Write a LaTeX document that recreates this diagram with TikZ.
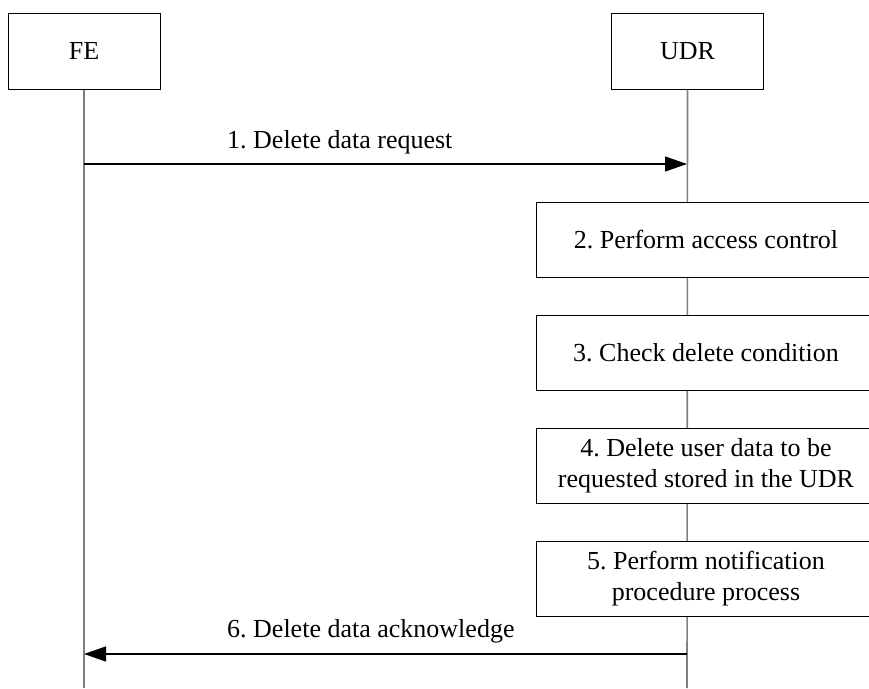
\documentclass[tikz,border=0pt]{standalone}
\usepackage{fontspec}
\setmainfont{Liberation Serif}
\usetikzlibrary{arrows.meta}
\frenchspacing
\begin{document}
\begin{tikzpicture}[x=1pt,y=-1pt,
  txt/.style={font=\fontsize{26}{31}\selectfont},
  entity/.style={draw=black,line width=1pt,fill=white,minimum width=152pt,minimum height=76pt,inner sep=0pt,txt},
  stepbox/.style={draw=black,line width=1pt,fill=white,minimum width=340pt,minimum height=75pt,inner sep=0pt,align=center,txt},
  life/.style={draw=black!50,line width=1.6pt},
  msg/.style={draw=black,line width=1.2pt,-{Triangle[length=22pt,width=15pt]}},
  lbl/.style={anchor=base west,inner sep=0pt,txt}]
\useasboundingbox (0,0) rectangle (869,688);
\begin{scope}
\clip (0,0) rectangle (869,688);
\coordinate (feend) at (84,688);
\coordinate (udrend) at (687,688);
\node[entity] (fe) at (84,51) {FE};
\node[entity] (udr) at (687.5,51) {UDR};
\draw[life] (fe.south) -- (feend);
\draw[life] (udr.south) -- (udrend);
\coordinate (m1s) at (84,164);
\coordinate (m1e) at (687,164);
\draw[msg] (m1s) -- (m1e);
\node[lbl] (l1) at (227,148) {1. Delete data request};
\node[stepbox] (s2) at (706,239.5) {2. Perform access control};
\node[stepbox] (s3) at (706,352.5) {3. Check delete condition};
\node[stepbox] (s4) at (706,465.5) {4. Delete user data to be\\requested stored in the UDR};
\node[stepbox] (s5) at (706,579) {5. Perform notification\\procedure process};
\coordinate (m6s) at (687,654);
\coordinate (m6e) at (84,654);
\draw[msg] (m6s) -- (m6e);
\node[lbl] (l6) at (227,637) {6. Delete data acknowledge};
\end{scope}
\end{tikzpicture}
\end{document}
